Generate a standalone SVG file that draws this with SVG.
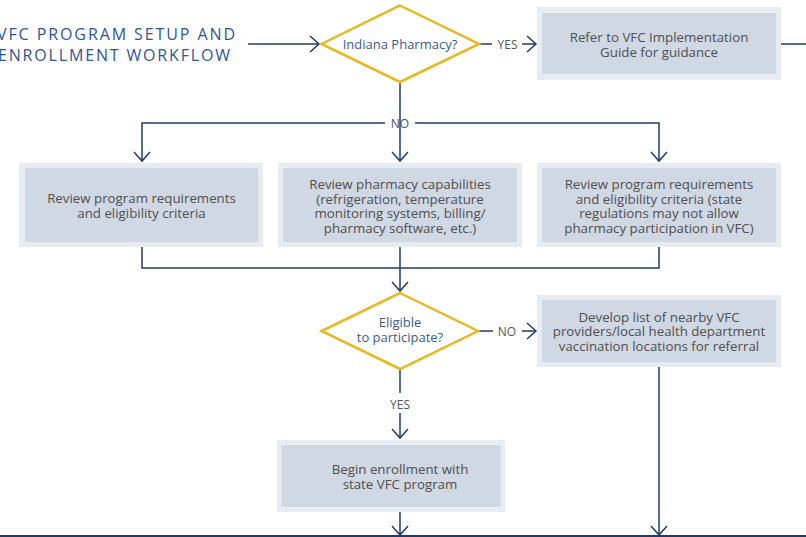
<svg xmlns="http://www.w3.org/2000/svg" width="806" height="537" viewBox="0 0 806 537">
<style>
  .outer{fill:#e7ebf3}
  .inner{fill:#d0d8e4}
  .bt{font-family:"Open Sans","Liberation Sans",sans-serif;font-size:13.3px;fill:#4f4f4f;text-anchor:middle}
  .dt{font-family:"Open Sans","Liberation Sans",sans-serif;font-size:13px;fill:#3b5b92;text-anchor:middle}
  .lbl{font-family:"Open Sans","Liberation Sans",sans-serif;font-size:12px;fill:#555;text-anchor:middle}
  .dia{fill:#fff;stroke:#e8b820;stroke-width:2.5;stroke-linejoin:miter}
  .cn{fill:none;stroke:#1f3d6b;stroke-width:1.5}
  .title{font-family:"Open Sans","Liberation Sans",sans-serif;font-size:16px;fill:#2f5597}
</style>
<defs>
  <marker id="ah" viewBox="-11 -10 13 20" refX="0" refY="0" markerWidth="13" markerHeight="20" markerUnits="userSpaceOnUse" orient="auto">
    <path d="M-9,-8 L0,0 L-9,8" fill="none" stroke="#1f3d6b" stroke-width="1.5"/>
  </marker>
</defs>

<g id="title">
  <text class="title" x="-3" y="39.5" textLength="238" lengthAdjust="spacing">VFC PROGRAM SETUP AND</text>
  <text class="title" x="-2" y="60.5" textLength="232" lengthAdjust="spacing">ENROLLMENT WORKFLOW</text>
</g>

<g id="connectors">
  <line class="cn" x1="248" y1="44" x2="319" y2="44" marker-end="url(#ah)"/>
  <line class="cn" x1="479" y1="44" x2="492" y2="44"/>
  <line class="cn" x1="522" y1="44" x2="536" y2="44" marker-end="url(#ah)"/>
  <line class="cn" x1="781" y1="44" x2="806" y2="44"/>
  <line class="cn" x1="400" y1="82" x2="400" y2="123"/>
  <polyline class="cn" points="385,123 142,123 142,161" marker-end="url(#ah)"/>
  <polyline class="cn" points="415,123 659,123 659,161" marker-end="url(#ah)"/>
  <line class="cn" x1="400" y1="123" x2="400" y2="161" marker-end="url(#ah)"/>
  <polyline class="cn" points="142,247 142,268 659,268 659,247"/>
  <line class="cn" x1="400" y1="247" x2="400" y2="291" marker-end="url(#ah)"/>
  <line class="cn" x1="478" y1="331" x2="493" y2="331"/>
  <line class="cn" x1="522" y1="331" x2="536" y2="331" marker-end="url(#ah)"/>
  <line class="cn" x1="400" y1="369" x2="400" y2="393"/>
  <line class="cn" x1="400" y1="413" x2="400" y2="438" marker-end="url(#ah)"/>
  <line class="cn" x1="659" y1="367" x2="659" y2="535" marker-end="url(#ah)"/>
  <line class="cn" x1="400" y1="512" x2="400" y2="535" marker-end="url(#ah)"/>
  <line x1="0" y1="536" x2="806" y2="536" stroke="#1f3d6b" stroke-width="2"/>
  <text class="lbl" x="507.5" y="48.5">YES</text>
  <text class="lbl" x="400" y="127.5">NO</text>
  <text class="lbl" x="507" y="335.5">NO</text>
  <text class="lbl" x="400" y="409">YES</text>
</g>

<g id="d1">
  <polygon class="dia" points="400,5.5 479,44 400,82 321.5,44"/>
  <text class="dt" x="400" y="48.5">Indiana Pharmacy?</text>
</g>

<g id="n-refer">
  <rect class="outer" x="537" y="7" width="244" height="73"/>
  <rect class="inner" x="542" y="13" width="234" height="61"/>
  <text class="bt" x="659" y="42">Refer to VFC Implementation</text>
  <text class="bt" x="659" y="57">Guide for guidance</text>
</g>

<g id="n-review1">
  <rect class="outer" x="19" y="163" width="244" height="84"/>
  <rect class="inner" x="25" y="168" width="233" height="74"/>
  <text class="bt" x="141.5" y="203">Review program requirements</text>
  <text class="bt" x="141.5" y="217.5">and eligibility criteria</text>
</g>

<g id="n-review2">
  <rect class="outer" x="278" y="163" width="244" height="84"/>
  <rect class="inner" x="283" y="168" width="234" height="74"/>
  <text class="bt" x="400" y="189">Review pharmacy capabilities</text>
  <text class="bt" x="400" y="203.5">(refrigeration, temperature</text>
  <text class="bt" x="400" y="218">monitoring systems, billing/</text>
  <text class="bt" x="400" y="232.5">pharmacy software, etc.)</text>
</g>

<g id="n-review3">
  <rect class="outer" x="537" y="163" width="244" height="84"/>
  <rect class="inner" x="542" y="168" width="234" height="74"/>
  <text class="bt" x="659" y="189">Review program requirements</text>
  <text class="bt" x="659" y="203.5">and eligibility criteria (state</text>
  <text class="bt" x="659" y="218">regulations may not allow</text>
  <text class="bt" x="659" y="232.5">pharmacy participation in VFC)</text>
</g>

<g id="d2">
  <polygon class="dia" points="400,293 478,331 400,369 321.5,331"/>
  <text class="dt" x="400" y="327">Eligible</text>
  <text class="dt" x="400" y="342">to participate?</text>
</g>

<g id="n-develop">
  <rect class="outer" x="537" y="295" width="244" height="72"/>
  <rect class="inner" x="542" y="300" width="234" height="62"/>
  <text class="bt" x="659" y="321.5">Develop list of nearby VFC</text>
  <text class="bt" x="659" y="336">providers/local health department</text>
  <text class="bt" x="659" y="350.5">vaccination locations for referral</text>
</g>

<g id="n-begin">
  <rect class="outer" x="277" y="440" width="228" height="72"/>
  <rect class="inner" x="281.5" y="445" width="219" height="62"/>
  <text class="bt" x="400" y="474">Begin enrollment with</text>
  <text class="bt" x="400" y="489">state VFC program</text>
</g>
</svg>
